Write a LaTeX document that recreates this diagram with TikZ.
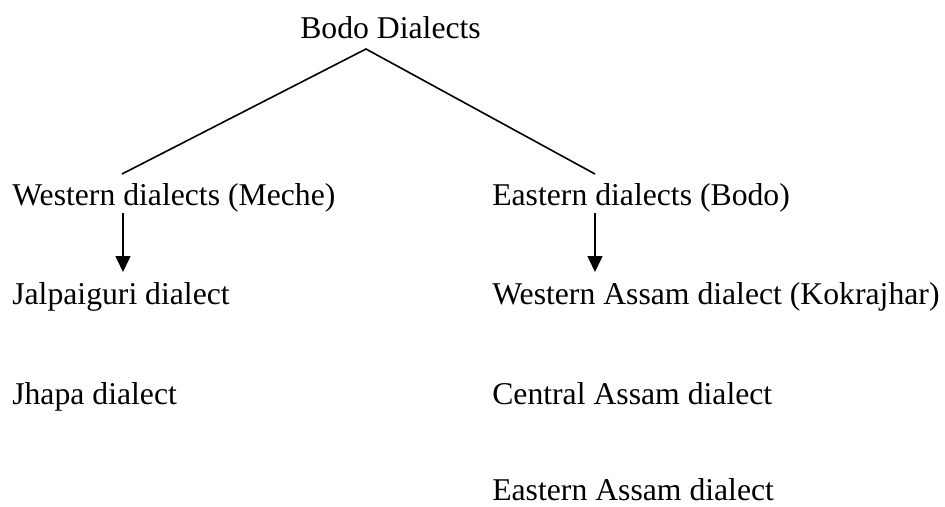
\documentclass[tikz,border=0pt]{standalone}
\usepackage{fontspec}
\setmainfont{Liberation Serif}
\usetikzlibrary{arrows.meta}

\begin{document}
\begin{tikzpicture}[x=1pt, y=-1pt, >={Triangle[width=15pt,length=16pt]}, semithick]

    \tikzstyle{dialect}=[anchor=base west, inner sep=0pt, font=\fontsize{31.7}{38}\selectfont]
    \tikzstyle{branch}=[line width=1.6pt]

    \useasboundingbox (0,0) rectangle (945,506);

    \node[dialect] (bodo) at (300,38) {Bodo Dialects};
    \node[dialect] (west) at (12,205) {Western dialects (Meche)};
    \node[dialect] (east) at (492,205) {Eastern dialects (Bodo)};
    \node[dialect] (jalp) at (12,304) {Jalpaiguri dialect};
    \node[dialect] (jhapa) at (12,404) {Jhapa dialect};
    \node[dialect] (wassam) at (492,304) {Western Assam dialect (Kokrajhar)};
    \node[dialect] (cassam) at (492,404) {Central Assam dialect};
    \node[dialect] (eassam) at (492,500) {Eastern Assam dialect};

    \coordinate (peak) at (366,49);
    \coordinate (wtop) at (122,174);
    \coordinate (etop) at (595,174);
    \coordinate (wfrom) at (123,213);
    \coordinate (wto) at (123,272);
    \coordinate (efrom) at (595,213);
    \coordinate (eto) at (595,272);

    \draw[branch] (wtop) -- (peak) -- (etop);
    \draw[branch,->] (wfrom) -- (wto);
    \draw[branch,->] (efrom) -- (eto);
\end{tikzpicture}
\end{document}
